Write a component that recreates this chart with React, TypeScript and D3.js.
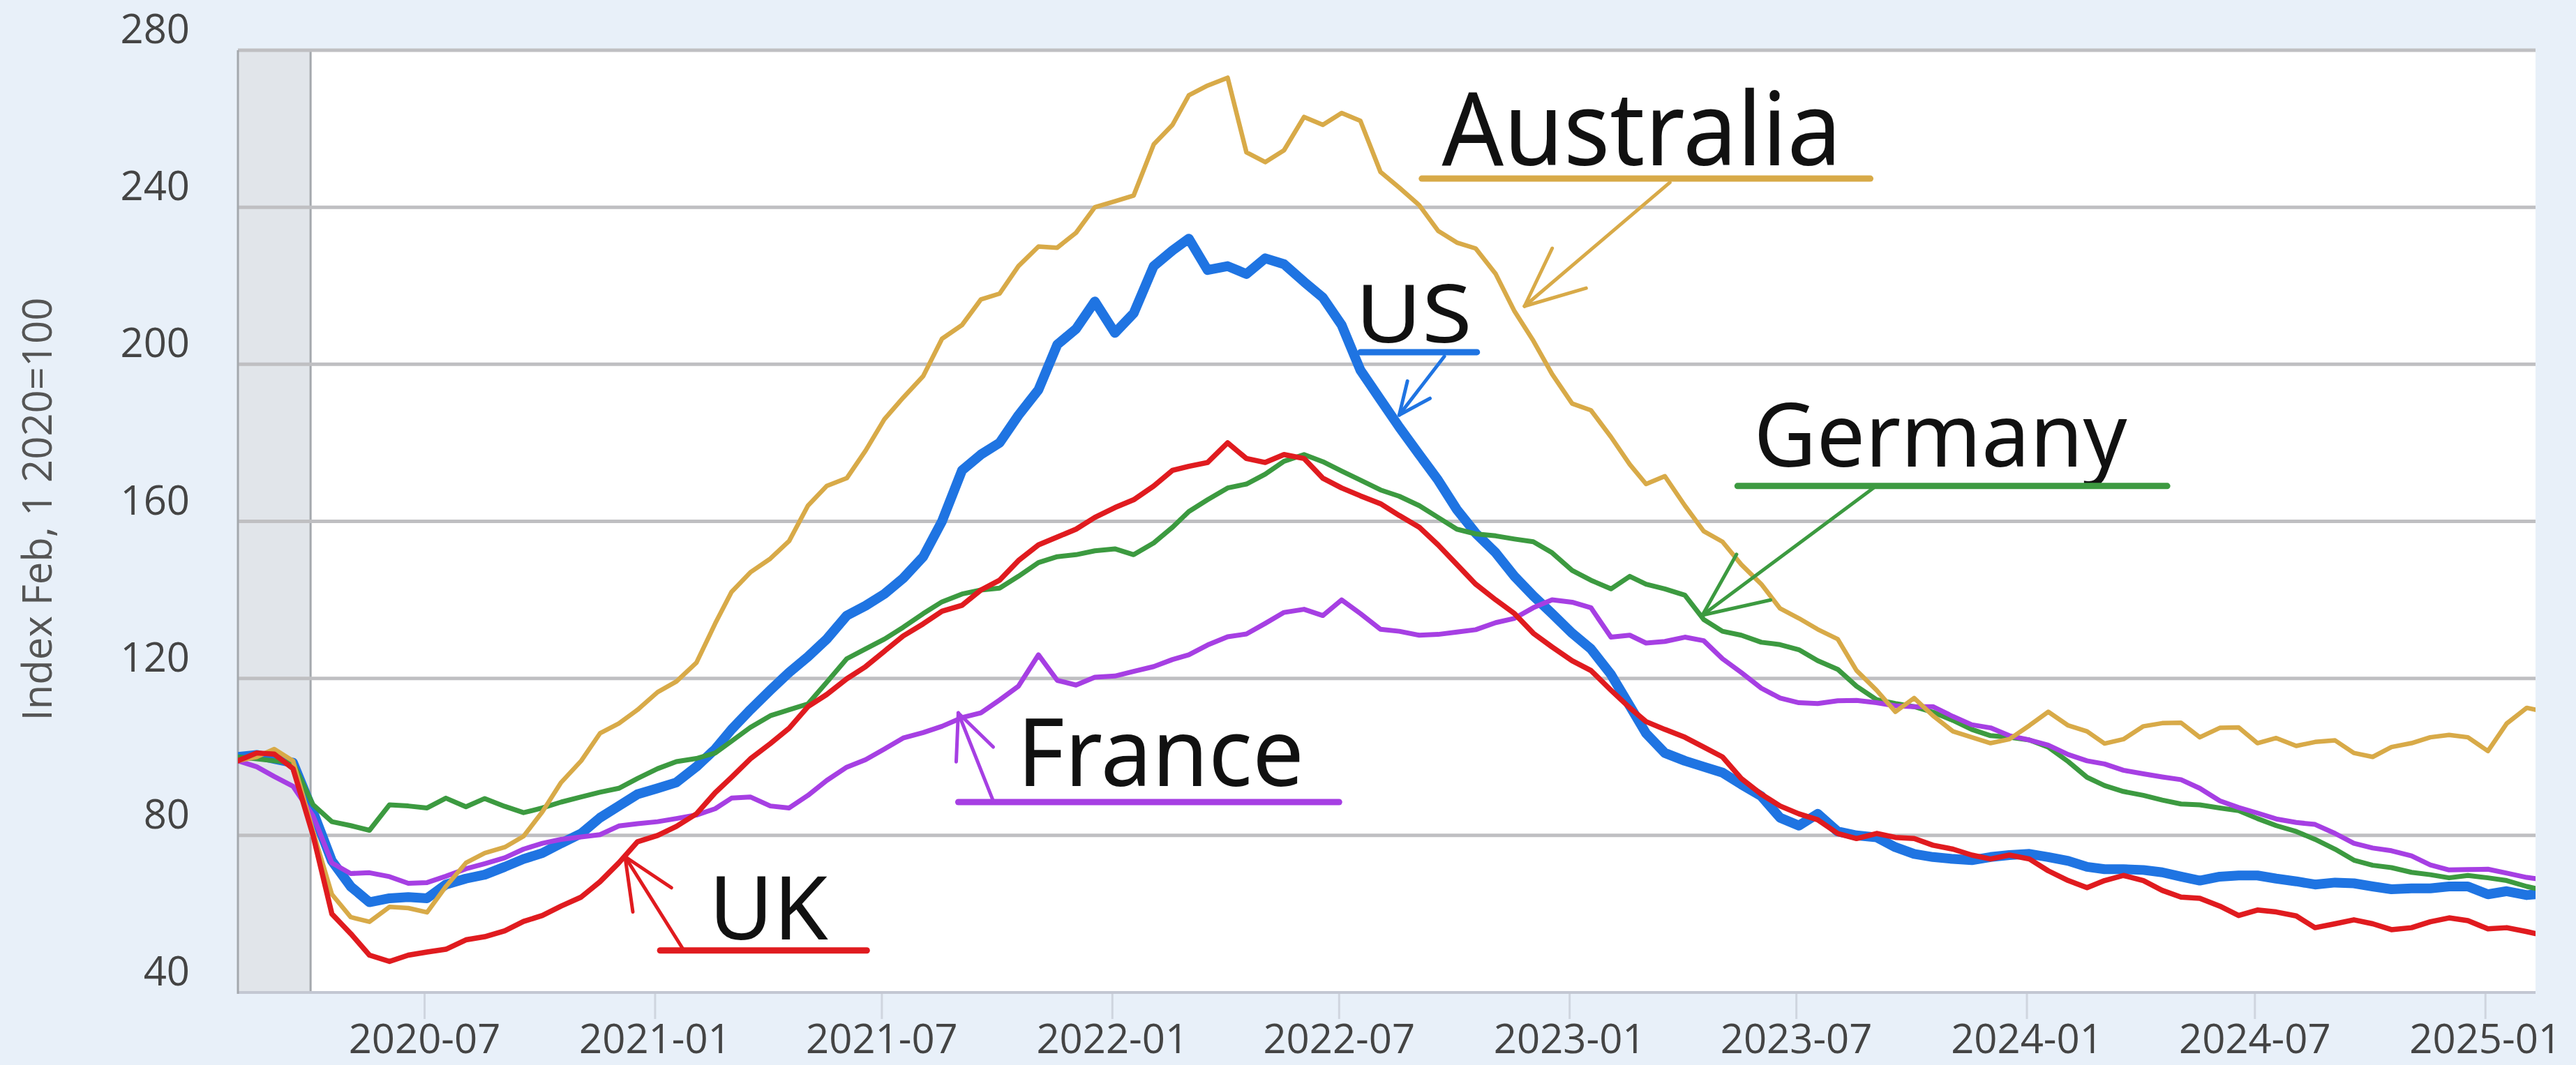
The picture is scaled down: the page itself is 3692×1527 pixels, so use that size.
import * as React from "react";
import { useEffect, useRef } from "react";
import { select, scaleTime, scaleLinear, line, range, timeParse, curveLinear } from "d3";

const W = 3692;
const H = 1527;
const plot = { left: 341, right: 3634, top: 72, bottom: 1423 };

const parse = timeParse("%Y-%m-%d");
const startDate = new Date(2020, 1, 3);
const endDate = new Date(2025, 1, 10);

// observations on the 3rd and 18th of every month, then the last print
const dates: Date[] = range(121)
  .map((k) => new Date(2020, 1 + Math.floor(k / 2), k % 2 ? 18 : 3))
  .concat([endDate]);

const australia = [
  99, 100, 102, 99, 81, 65, 59.2, 58, 61.8, 61.5,
  60.4, 67, 73, 75.5, 77, 79.8, 86, 93.5, 99, 106,
  108.5, 112, 116.5, 119.2, 124, 134, 142, 147, 150.5, 155,
  164, 169, 171, 178, 186, 191.5, 197, 206.5, 210, 216.5,
  218, 225, 230, 229.7, 233.5, 240, 241.5, 243, 256, 261,
  268.5, 271, 273, 254, 251.5, 254.5, 263, 261, 264, 262,
  249, 245, 240.5, 234, 231, 229.5, 223, 213.5, 206, 197.5,
  190, 188.3, 181.5, 174.5, 169.5, 171.5, 164, 157.5, 154.8, 149,
  144, 137.8, 135.3, 132.5, 130, 122, 117, 111.5, 115, 110.5,
  106.5, 105, 103.5, 104.5, 108, 111.5, 108, 106.5, 103.4, 104.5,
  107.8, 108.6, 108.7, 105, 107.4, 107.5, 103.5, 104.8, 102.8, 103.8,
  104.2, 101, 100, 102.5, 103.5, 105, 105.6, 105, 101.5, 108.5,
  112.5, 112,
];

const us = [
  100, 100.5, 99.5, 98.5, 86, 73.5, 67, 63, 64, 64.3,
  64, 67.5, 69, 70, 72, 74, 75.5, 78, 80.5, 84.5,
  87.5, 90.5, 92, 93.5, 97.5, 102, 107, 112, 117, 121.5,
  125.5, 130, 136, 138.5, 141.5, 145.5, 151, 160, 173, 177,
  180, 187, 193.5, 205, 209, 216, 208, 213, 225, 229,
  232, 224, 225, 223, 227, 225.5, 221, 217, 210, 198.5,
  191, 184, 177, 170.5, 163, 157, 152, 146, 141, 136.5,
  131.5, 127.5, 121, 113, 106, 101, 99, 97.5, 96, 93,
  90, 84.5, 82.5, 85.5, 81, 80, 79.5, 77, 75.3, 74.5,
  74, 73.7, 74.5, 75, 75.3, 74.5, 73.5, 72, 71.4, 71.4,
  71.2, 70.6, 69.5, 68.5, 69.5, 69.8, 69.8, 69, 68.3, 67.5,
  68, 67.8, 67, 66.3, 66.5, 66.5, 67, 67, 65, 65.8,
  64.8, 65,
];

const germany = [
  100, 99.5, 99, 98.5, 87.8, 83.5, 82.5, 81.3, 87.8, 87.5,
  87, 89.5, 87.3, 89.4, 87.4, 85.8, 87, 88.5, 89.8, 91,
  92, 94.5, 97, 98.8, 99.6, 101, 104, 107.5, 110.5, 112,
  113.5, 119, 125, 127.5, 130, 133, 136.5, 139.5, 141.5, 142.5,
  143, 146, 149.5, 151, 151.5, 152.5, 153, 151.5, 154.5, 158.5,
  162.5, 165.5, 168.5, 169.5, 172, 175.3, 177, 175.2, 172.8, 170.5,
  168, 166.4, 164, 161, 158, 156.8, 156.3, 155.5, 154.8, 152,
  147.5, 145, 142.8, 146, 144, 142.8, 141.2, 135, 132, 131,
  129.2, 128.6, 127.3, 124.5, 122.3, 118, 114.6, 113.6, 112.8, 111.4,
  109.3, 107, 105.4, 105, 104.3, 102.5, 98.8, 94.8, 92.7, 91.2,
  90.2, 89, 88, 87.8, 87, 86.3, 84.3, 82.5, 81, 79,
  76.5, 73.7, 72.4, 71.8, 70.6, 70, 69.2, 69.8, 69.2, 68.5,
  67, 66.5,
];

const france = [
  99, 97.5, 95, 92.5, 85, 73, 70.3, 70.5, 69.5, 67.8,
  68, 69.6, 71.5, 72.8, 74.3, 76.5, 78, 79, 79.6, 80.2,
  82.4, 83, 83.5, 84.3, 85.2, 86.8, 89.5, 89.8, 87.5, 87,
  90.2, 94, 97.4, 99.3, 102, 104.8, 106.2, 107.8, 110, 111.2,
  114.5, 118, 126, 119.5, 118.3, 120.3, 120.6, 121.8, 123, 124.8,
  126, 128.5, 130.6, 131.3, 134, 136.8, 137.6, 136, 140, 136.5,
  132.5, 132, 131, 131.2, 131.8, 132.4, 134.2, 135.3, 138, 140,
  139.4, 138, 130.5, 131, 129, 129.4, 130.5, 129.6, 125, 121.5,
  117.5, 115, 113.8, 113.6, 114.3, 114.4, 113.8, 113, 112.8, 112.8,
  110.3, 108.2, 107.4, 105.4, 104.3, 103, 100.6, 99, 98.2, 96.6,
  95.7, 94.9, 94.2, 92, 88.8, 87.1, 85.7, 84.2, 83.3, 82.8,
  80.5, 78, 76.8, 76.1, 74.8, 72.5, 71.2, 71.3, 71.4, 70.4,
  69.3, 69,
];

const uk = [
  99, 101, 100.7, 97, 80, 60, 55, 49.5, 47.9, 49.5,
  50.3, 51, 53.4, 54.2, 55.7, 58.1, 59.6, 62, 64.3, 68.2,
  73, 78.4, 80, 82.3, 85.5, 90.9, 94.8, 99.5, 103.4, 107.3,
  112.8, 115.9, 119.9, 123, 126.9, 130.8, 133.9, 137.1, 138.6, 142.5,
  145, 150, 154, 156, 158, 161, 163.5, 165.5, 169, 173,
  174, 175, 180, 176, 175, 177, 176, 171, 168.5, 166.5,
  164.5, 161.5, 158.5, 154, 149, 144, 140, 136.5, 131.5, 128,
  124.5, 122, 117, 112.5, 109, 107, 105, 102.5, 100, 94.5,
  90.5, 87.5, 85.5, 84, 80.5, 79.2, 80.5, 79.5, 79.2, 77.5,
  76.5, 75, 74, 75, 74, 71, 68.5, 66.7, 68.5, 69.8,
  68.5, 66, 64.3, 64, 62, 59.6, 61, 60.5, 59.5, 56.5,
  57.5, 58.5, 57.5, 56, 56.5, 58, 59, 58.3, 56.2, 56.5,
  55.5, 55,
];

const yTicks = [40, 80, 120, 160, 200, 240, 280];
const xTickLabels = [
  "2020-07", "2021-01", "2021-07", "2022-01", "2022-07",
  "2023-01", "2023-07", "2024-01", "2024-07", "2025-01",
];
const recession = ["2020-02-01", "2020-04-01"];

// drawing order: bottom first
const series = [
  { name: "US", values: us, color: "#1f74e2", width: 14 },
  { name: "Germany", values: germany, color: "#3c9a40", width: 7 },
  { name: "France", values: france, color: "#a63fe3", width: 7 },
  { name: "Australia", values: australia, color: "#d8aa48", width: 6.5 },
  { name: "UK", values: uk, color: "#e01b1f", width: 7.5 },
];

// hand-written call-outs, placed in data units
const notes = [
  { text: "Australia", color: "#d8aa48", size: 146, wing: 92,
    textFrom: "2022-09-21", textTo: "2023-08-06", base: 250.7,
    lineFrom: "2022-09-05", lineTo: "2023-08-29", lineAt: 247.3,
    arrowFrom: ["2023-03-22", 246.3], arrowTo: ["2022-11-26", 214.8] },
  { text: "US", color: "#1f74e2", size: 116, wing: 50,
    textFrom: "2022-07-14", textTo: "2022-10-15", base: 205.6,
    lineFrom: "2022-07-18", lineTo: "2022-10-19", lineAt: 203.1,
    arrowFrom: ["2022-09-23", 202], arrowTo: ["2022-08-18", 187.1] },
  { text: "Germany", color: "#3c9a40", size: 126, wing: 100,
    textFrom: "2023-05-28", textTo: "2024-03-21", base: 173.9,
    lineFrom: "2023-05-15", lineTo: "2024-04-22", lineAt: 169,
    arrowFrom: ["2023-09-01", 168.6], arrowTo: ["2023-04-17", 136.1] },
  { text: "France", color: "#a63fe3", size: 136, wing: 70,
    textFrom: "2021-10-17", textTo: "2022-06-03", base: 92.6,
    lineFrom: "2021-08-31", lineTo: "2022-07-01", lineAt: 88.5,
    arrowFrom: ["2021-09-28", 88.7], arrowTo: ["2021-08-31", 111.2] },
  { text: "UK", color: "#e01b1f", size: 126, wing: 80,
    textFrom: "2021-02-13", textTo: "2021-05-19", base: 53.5,
    lineFrom: "2021-01-05", lineTo: "2021-06-19", lineAt: 50.7,
    arrowFrom: ["2021-01-23", 51.2], arrowTo: ["2020-12-08", 74.6] },
];

function App() {
  const svgRef = useRef<SVGSVGElement>(null);

  useEffect(() => {
    const svg = select(svgRef.current);
    svg.selectAll("*").remove();

    const x = scaleTime().domain([startDate, endDate]).range([plot.left, plot.right]);
    const y = scaleLinear().domain([40, 280]).range([plot.bottom, plot.top]);
    const axisFont = "'Open Sans', 'Noto Sans', sans-serif";

    svg.append("rect").attr("width", W).attr("height", H).attr("fill", "#e8f0f9");
    svg
      .append("rect")
      .attr("x", plot.left)
      .attr("y", plot.top)
      .attr("width", plot.right - plot.left)
      .attr("height", plot.bottom - plot.top)
      .attr("fill", "#ffffff");

    // recession shading
    const r0 = Math.max(plot.left, x(parse(recession[0])!));
    const r1 = x(parse(recession[1])!);
    svg
      .append("rect")
      .attr("x", r0)
      .attr("y", plot.top)
      .attr("width", r1 - r0)
      .attr("height", plot.bottom - plot.top)
      .attr("fill", "#e1e5ea");
    svg
      .append("line")
      .attr("x1", r1).attr("x2", r1)
      .attr("y1", plot.top).attr("y2", plot.bottom)
      .attr("stroke", "#a4a8ad").attr("stroke-width", 3);

    // grid
    svg
      .append("g")
      .selectAll("line")
      .data(yTicks.filter((t) => t > 40))
      .join("line")
      .attr("x1", plot.left)
      .attr("x2", plot.right)
      .attr("y1", (d) => y(d))
      .attr("y2", (d) => y(d))
      .attr("stroke", "#bfbfc2")
      .attr("stroke-width", 5);

    svg
      .append("line")
      .attr("x1", plot.left).attr("x2", plot.right)
      .attr("y1", plot.bottom).attr("y2", plot.bottom)
      .attr("stroke", "#c3c7d2").attr("stroke-width", 4);
    svg
      .append("line")
      .attr("x1", plot.left).attr("x2", plot.left)
      .attr("y1", plot.top).attr("y2", plot.bottom + 2)
      .attr("stroke", "#a4a8ad").attr("stroke-width", 3);

    // y labels
    svg
      .append("g")
      .selectAll("text")
      .data(yTicks)
      .join("text")
      .attr("x", 272)
      .attr("y", (d) => y(d) - 10)
      .attr("text-anchor", "end")
      .attr("font-family", axisFont)
      .attr("font-size", 58)
      .attr("fill", "#444")
      .text((d) => String(d));

    // x ticks and labels
    const xt = svg.append("g");
    xTickLabels.forEach((lab) => {
      const px = x(parse(lab + "-01")!);
      xt.append("line")
        .attr("x1", px).attr("x2", px)
        .attr("y1", plot.bottom + 2).attr("y2", plot.bottom + 38)
        .attr("stroke", "#cfd5df").attr("stroke-width", 3);
      xt.append("text")
        .attr("x", px)
        .attr("y", 1510)
        .attr("text-anchor", "middle")
        .attr("font-family", axisFont)
        .attr("font-size", 58)
        .attr("fill", "#444")
        .text(lab);
    });

    svg
      .append("text")
      .attr("transform", "translate(58,730) rotate(-90)")
      .attr("text-anchor", "middle")
      .attr("dominant-baseline", "middle")
      .attr("font-family", axisFont)
      .attr("font-size", 58)
      .attr("fill", "#555")
      .text("Index Feb, 1 2020=100");

    // series
    svg
      .append("clipPath")
      .attr("id", "plot-clip")
      .append("rect")
      .attr("x", plot.left)
      .attr("y", plot.top - 10)
      .attr("width", plot.right - plot.left)
      .attr("height", plot.bottom - plot.top + 10);

    const path = line<number>()
      .x((_, i) => x(dates[i]))
      .y((v) => y(v))
      .curve(curveLinear);

    svg
      .append("g")
      .attr("clip-path", "url(#plot-clip)")
      .selectAll("path")
      .data(series)
      .join("path")
      .attr("d", (s) => path(s.values))
      .attr("fill", "none")
      .attr("stroke", (s) => s.color)
      .attr("stroke-width", (s) => s.width)
      .attr("stroke-linejoin", "round")
      .attr("stroke-linecap", "round");

    // call-outs
    const ng = svg.append("g");
    notes.forEach((n) => {
      const tx0 = x(parse(n.textFrom)!);
      const tx1 = x(parse(n.textTo)!);
      ng.append("text")
        .attr("x", tx0)
        .attr("y", y(n.base))
        .attr("font-family", "'Noto Sans', 'Open Sans', sans-serif")
        .attr("font-weight", 400)
        .attr("font-size", n.size)
        .attr("fill", "#111")
        .attr("textLength", tx1 - tx0)
        .attr("lengthAdjust", "spacingAndGlyphs")
        .text(n.text);

      ng.append("line")
        .attr("x1", x(parse(n.lineFrom)!))
        .attr("x2", x(parse(n.lineTo)!))
        .attr("y1", y(n.lineAt))
        .attr("y2", y(n.lineAt))
        .attr("stroke", n.color)
        .attr("stroke-width", 9)
        .attr("stroke-linecap", "round");

      const fx = x(parse(n.arrowFrom[0] as string)!);
      const fy = y(n.arrowFrom[1] as number);
      const ax = x(parse(n.arrowTo[0] as string)!);
      const ay = y(n.arrowTo[1] as number);
      const ang = Math.atan2(fy - ay, fx - ax);
      const segs = [
        [fx, fy, ax, ay],
        [ax, ay, ax + n.wing * Math.cos(ang - 0.42), ay + n.wing * Math.sin(ang - 0.42)],
        [ax, ay, ax + n.wing * Math.cos(ang + 0.42), ay + n.wing * Math.sin(ang + 0.42)],
      ];
      segs.forEach((s) => {
        ng.append("line")
          .attr("x1", s[0]).attr("y1", s[1])
          .attr("x2", s[2]).attr("y2", s[3])
          .attr("stroke", n.color)
          .attr("stroke-width", 5)
          .attr("stroke-linecap", "round");
      });
    });
  }, []);

  return (
    <div style={{ position: "absolute", left: 0, top: 0 }}>
      <svg ref={svgRef} width={W} height={H} style={{ display: "block" }} />
    </div>
  );
}

export default App;
